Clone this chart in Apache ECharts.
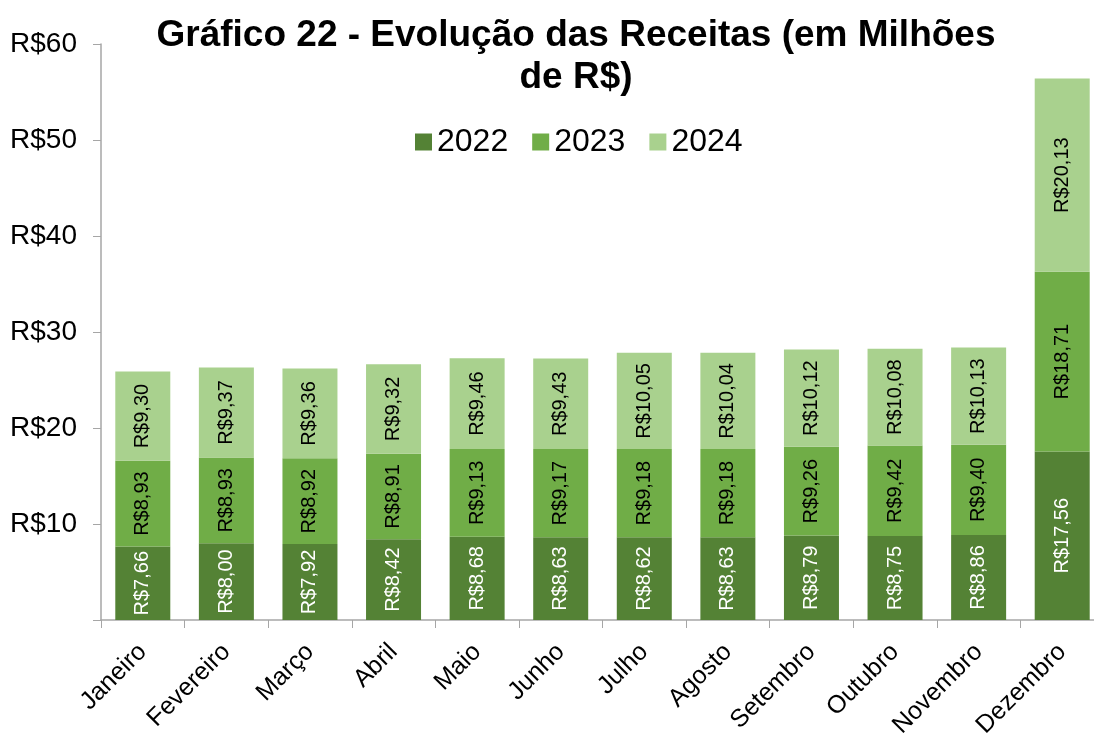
<!DOCTYPE html>
<html>
<head>
<meta charset="utf-8">
<script src="https://cdn.jsdelivr.net/npm/echarts@6/dist/echarts.min.js"></script>
<style>
html, body { margin: 0; padding: 0; background: #fff; }
#chart { width: 1094px; height: 736px; }
</style>
</head>
<body>
<div id="chart"></div>
<script>
var meses = ['Janeiro', 'Fevereiro', 'Março', 'Abril', 'Maio', 'Junho', 'Julho', 'Agosto', 'Setembro', 'Outubro', 'Novembro', 'Dezembro'];
var v2022 = [7.66, 8.00, 7.92, 8.42, 8.68, 8.63, 8.62, 8.63, 8.79, 8.75, 8.86, 17.56];
var v2023 = [8.93, 8.93, 8.92, 8.91, 9.13, 9.17, 9.18, 9.18, 9.26, 9.42, 9.40, 18.71];
var v2024 = [9.30, 9.37, 9.36, 9.32, 9.46, 9.43, 10.05, 10.04, 10.12, 10.08, 10.13, 20.13];
var yTicks = [0, 10, 20, 30, 40, 50, 60];

var font = 'Arial, "Liberation Sans", sans-serif';

function fmt(v) {
    return 'R$' + v.toFixed(2).replace('.', ',');
}

function serie(nome, dados, cor, corTexto) {
    return {
        name: nome,
        type: 'bar',
        stack: 'total',
        barWidth: 55,
        data: dados,
        itemStyle: { color: cor },
        label: {
            show: true,
            position: 'inside',
            rotate: 90,
            color: corTexto,
            fontSize: 20,
            fontFamily: font,
            formatter: function (p) { return fmt(p.value); }
        }
    };
}

var chart = echarts.init(document.getElementById('chart'));
var option = {
    animation: false,
    title: {
        text: 'Gráfico 22 - Evolução das Receitas (em Milhões\nde R$)',
        left: 571,
        textAlign: 'center',
        top: 10,
        textStyle: { fontSize: 37, fontWeight: 'bold', color: '#000', fontFamily: font, lineHeight: 42 }
    },
    legend: {
        top: 121,
        left: 410,
        itemWidth: 17,
        itemHeight: 17,
        itemGap: 24,
        icon: 'rect',
        textStyle: { fontSize: 32, color: '#000', fontFamily: font },
        data: ['2022', '2023', '2024']
    },
    grid: { left: 101, top: 44, width: 1003, height: 576, outerBoundsMode: 'none' },
    xAxis: {
        type: 'category',
        data: meses,
        axisLine: { lineStyle: { color: '#A6A6A6', width: 1.5 } },
        axisTick: { show: true, length: 8, lineStyle: { color: '#A6A6A6' } },
        axisLabel: { rotate: 45, fontSize: 25, color: '#000', fontFamily: font, margin: 28, interval: 0 }
    },
    yAxis: {
        type: 'value',
        min: yTicks[0],
        max: yTicks[yTicks.length - 1],
        interval: 10,
        splitLine: { show: false },
        axisLine: { show: true, lineStyle: { color: '#A6A6A6', width: 1.5 } },
        axisTick: { show: true, length: 8, lineStyle: { color: '#A6A6A6' } },
        axisLabel: {
            fontSize: 28, color: '#000', fontFamily: font, margin: 24,
            formatter: function (v) { return v === 0 ? '' : 'R$' + v; }
        }
    },
    series: [
        serie('2022', v2022, '#548235', '#fff'),
        serie('2023', v2023, '#70AD47', '#000'),
        serie('2024', v2024, '#A9D18E', '#000')
    ]
};
chart.setOption(option);
</script>
</body>
</html>
